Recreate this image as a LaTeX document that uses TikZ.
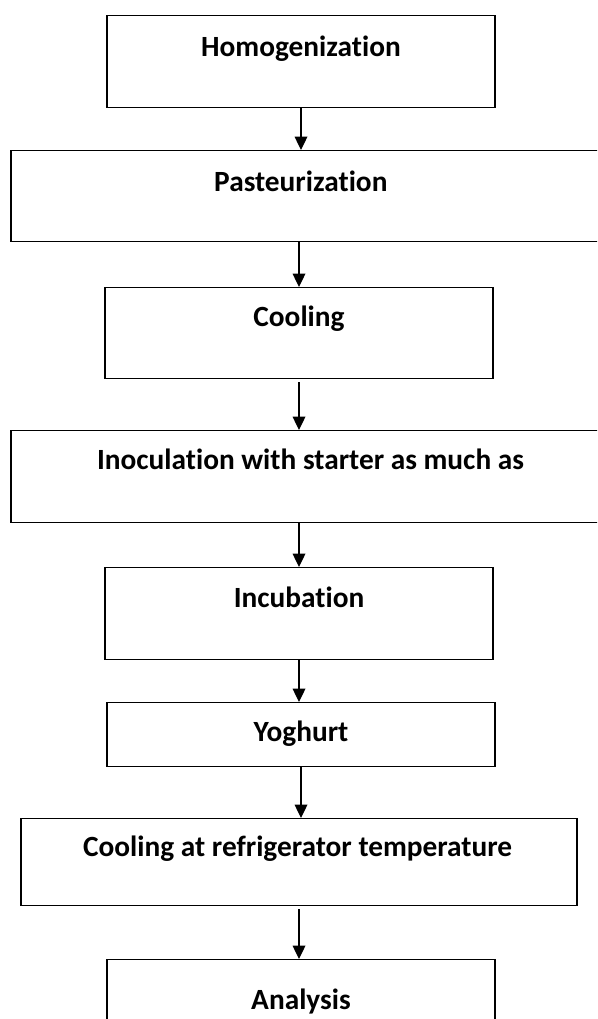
\documentclass[tikz,border=0pt]{standalone}
\usepackage{fontspec}
\setmainfont{Carlito}[Ligatures=NoCommon]
\usetikzlibrary{arrows.meta}

\tikzset{
	stepbox/.style={draw, line width=1.1pt, inner sep=0pt, anchor=north, minimum width=291pt, minimum height=69pt},
	steptext/.style={anchor=base, inner sep=0pt, font=\bfseries\fontsize{22}{26}\selectfont},
	flowarrow/.style={line width=0.95pt, -{Triangle[width=9.5pt, length=10pt]}}
}

\begin{document}
\begin{tikzpicture}[x=0.75pt, y=-0.75pt]
		%%%%% START %%%%%
		\path[use as bounding box, clip] (0, 0) rectangle (597, 1019);
		
		\node[stepbox, label={[steptext, yshift=-31pt]north:Homogenization}] (homog) at (301, 15) {};
		
		\node[stepbox, minimum width=441.75pt, minimum height=68.25pt, label={[steptext, xshift=-3.5pt, yshift=-31pt]north:Pasteurization}] (pasteur) at (305.5, 150) {};
		
		\node[stepbox, minimum height=68.25pt, label={[steptext, yshift=-29.5pt]north:Cooling}] (cool) at (299, 287) {};
		
		\node[stepbox, minimum width=449.25pt, label={[steptext, yshift=-29.5pt]north:Inoculation with starter as much as}] (inoc) at (310.5, 430) {};
		
		\node[stepbox, label={[steptext, yshift=-30pt]north:Incubation}] (incub) at (299, 567) {};
		
		\node[stepbox, minimum height=48pt, label={[steptext, yshift=-29.5pt]north:Yoghurt}] (yog) at (301, 702) {};
		
		\node[stepbox, minimum width=417pt, minimum height=65.25pt, label={[steptext, xshift=-1pt, yshift=-28.5pt]north:Cooling at refrigerator temperature}] (fridge) at (299, 818) {};
		
		\node[stepbox, label={[steptext, yshift=-37.5pt]north:Analysis}] (anal) at (301, 959) {};
		
		% arrows between the steps
		\draw[flowarrow] (homog.south) -- (homog.south |- pasteur.north);
		\draw[flowarrow] (pasteur.south -| cool.north) -- (cool.north);
		\draw[flowarrow, shorten <=2pt] (cool.south) -- (cool.south |- inoc.north);
		\draw[flowarrow] (inoc.south -| incub.north) -- (incub.north);
		\draw[flowarrow] (incub.south) -- (incub.south |- yog.north);
		\draw[flowarrow] (yog.south) -- (yog.south |- fridge.north);
		\draw[flowarrow, shorten <=2pt] (fridge.south) -- (fridge.south |- anal.north);
		
		%%%%% END %%%%%
\end{tikzpicture}
\end{document}
